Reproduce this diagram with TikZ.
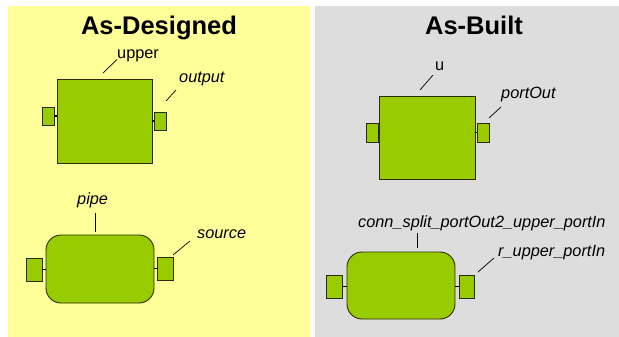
\documentclass[tikz,border=0pt]{standalone}
\usepackage{fontspec}
\setmainfont{Liberation Sans}
\definecolor{paneY}{HTML}{FFFF99}
\definecolor{paneG}{HTML}{DDDDDD}
\definecolor{boxgreen}{HTML}{99CC00}
\definecolor{edge}{HTML}{2B2B00}
\begin{document}
\begin{tikzpicture}[x=1pt,y=-1pt,
  blk/.style={draw=edge,line width=0.9pt,fill=boxgreen,inner sep=0pt,minimum width=#1},
  rblk/.style={blk=#1,rounded corners=15pt},
  port/.style={draw=edge,line width=0.9pt,fill=boxgreen,inner sep=0pt},
  stub/.style={black,line width=1.4pt},
  lead/.style={black,line width=0.7pt},
  title/.style={font=\fontsize{25.5}{28}\selectfont\bfseries,anchor=base,inner sep=0pt},
  lbl/.style={font=\fontsize{16.3}{18}\selectfont,anchor=base west,inner sep=0pt},
  ilbl/.style={lbl,font=\fontsize{16.3}{18}\selectfont\itshape}]
\useasboundingbox (0,0) rectangle (619,337);
\fill[paneY] (8,6) rectangle (310,337);
\fill[paneG] (315,6) rectangle (619,337);
\node[title] (t1) at (159,35) {As-Designed};
\node[title] (t2) at (474,35) {As-Built};
% left top
\node[blk=95pt,minimum height=84pt] (upper) at (104.5,121) {};
\node[port,minimum width=12pt,minimum height=18pt] (ulp) at (48,116) {};
\node[port,minimum width=12pt,minimum height=18pt] (urp) at (160,121) {};
\draw[stub] (ulp.east) -- (ulp.east -| upper.west);
\draw[stub] (urp.west) -- (urp.west -| upper.east);
\node[lbl] (lupper) at (117,58.3) {upper};
\node[ilbl] (loutput) at (179,82) {output};
\coordinate (a1) at (103,73); \coordinate (a2) at (117,59.5);
\coordinate (b1) at (166,101); \coordinate (b2) at (176,90);
\draw[lead] (a1) -- (a2);
\draw[lead] (b1) -- (b2);
% left bottom
\node[rblk=108pt,minimum height=68pt] (pipe) at (100,269) {};
\node[port,minimum width=16pt,minimum height=23pt] (plp) at (34,269.5) {};
\node[port,minimum width=16pt,minimum height=23pt] (prp) at (165,268.5) {};
\draw[stub] (plp.east) -- (plp.east -| pipe.west);
\draw[stub] (prp.west) -- (prp.west -| pipe.east);
\node[ilbl] (lpipe) at (77,204) {pipe};
\node[ilbl] (lsource) at (197,238) {source};
\coordinate (c1) at (95,213); \coordinate (c2) at (95,232);
\coordinate (d1) at (173,255); \coordinate (d2) at (190,241);
\draw[lead] (c1) -- (c2);
\draw[lead] (d1) -- (d2);
% right top
\node[blk=96pt,minimum height=83pt] (u) at (427,137.5) {};
\node[port,minimum width=12pt,minimum height=19pt] (ulp2) at (372,132.5) {};
\node[port,minimum width=12pt,minimum height=19pt] (urp2) at (483,132.5) {};
\draw[stub] (ulp2.east) -- (ulp2.east -| u.west);
\draw[stub] (urp2.west) -- (urp2.west -| u.east);
\node[lbl] (lu) at (435,71) {u};
\node[ilbl] (lportout) at (501,99) {portOut};
\coordinate (e1) at (420,90); \coordinate (e2) at (433,75);
\coordinate (f1) at (489,118); \coordinate (f2) at (501,107);
\draw[lead] (e1) -- (e2);
\draw[lead] (f1) -- (f2);
% right bottom
\node[rblk=108pt,minimum height=67pt] (conn) at (401,285.5) {};
\node[port,minimum width=16pt,minimum height=23pt] (clp) at (334,286.5) {};
\node[port,minimum width=15pt,minimum height=23pt] (crp) at (466.5,286.5) {};
\draw[stub] (clp.east) -- (clp.east -| conn.west);
\draw[stub] (crp.west) -- (crp.west -| conn.east);
\node[ilbl] (lconn) at (358,227) {conn\_split\_portOut2\_upper\_portIn};
\node[ilbl] (lr) at (498,256) {r\_upper\_portIn};
\coordinate (g1) at (417,233); \coordinate (g2) at (417,248);
\coordinate (h1) at (478,272); \coordinate (h2) at (494,258);
\draw[lead] (g1) -- (g2);
\draw[lead] (h1) -- (h2);
\end{tikzpicture}
\end{document}
